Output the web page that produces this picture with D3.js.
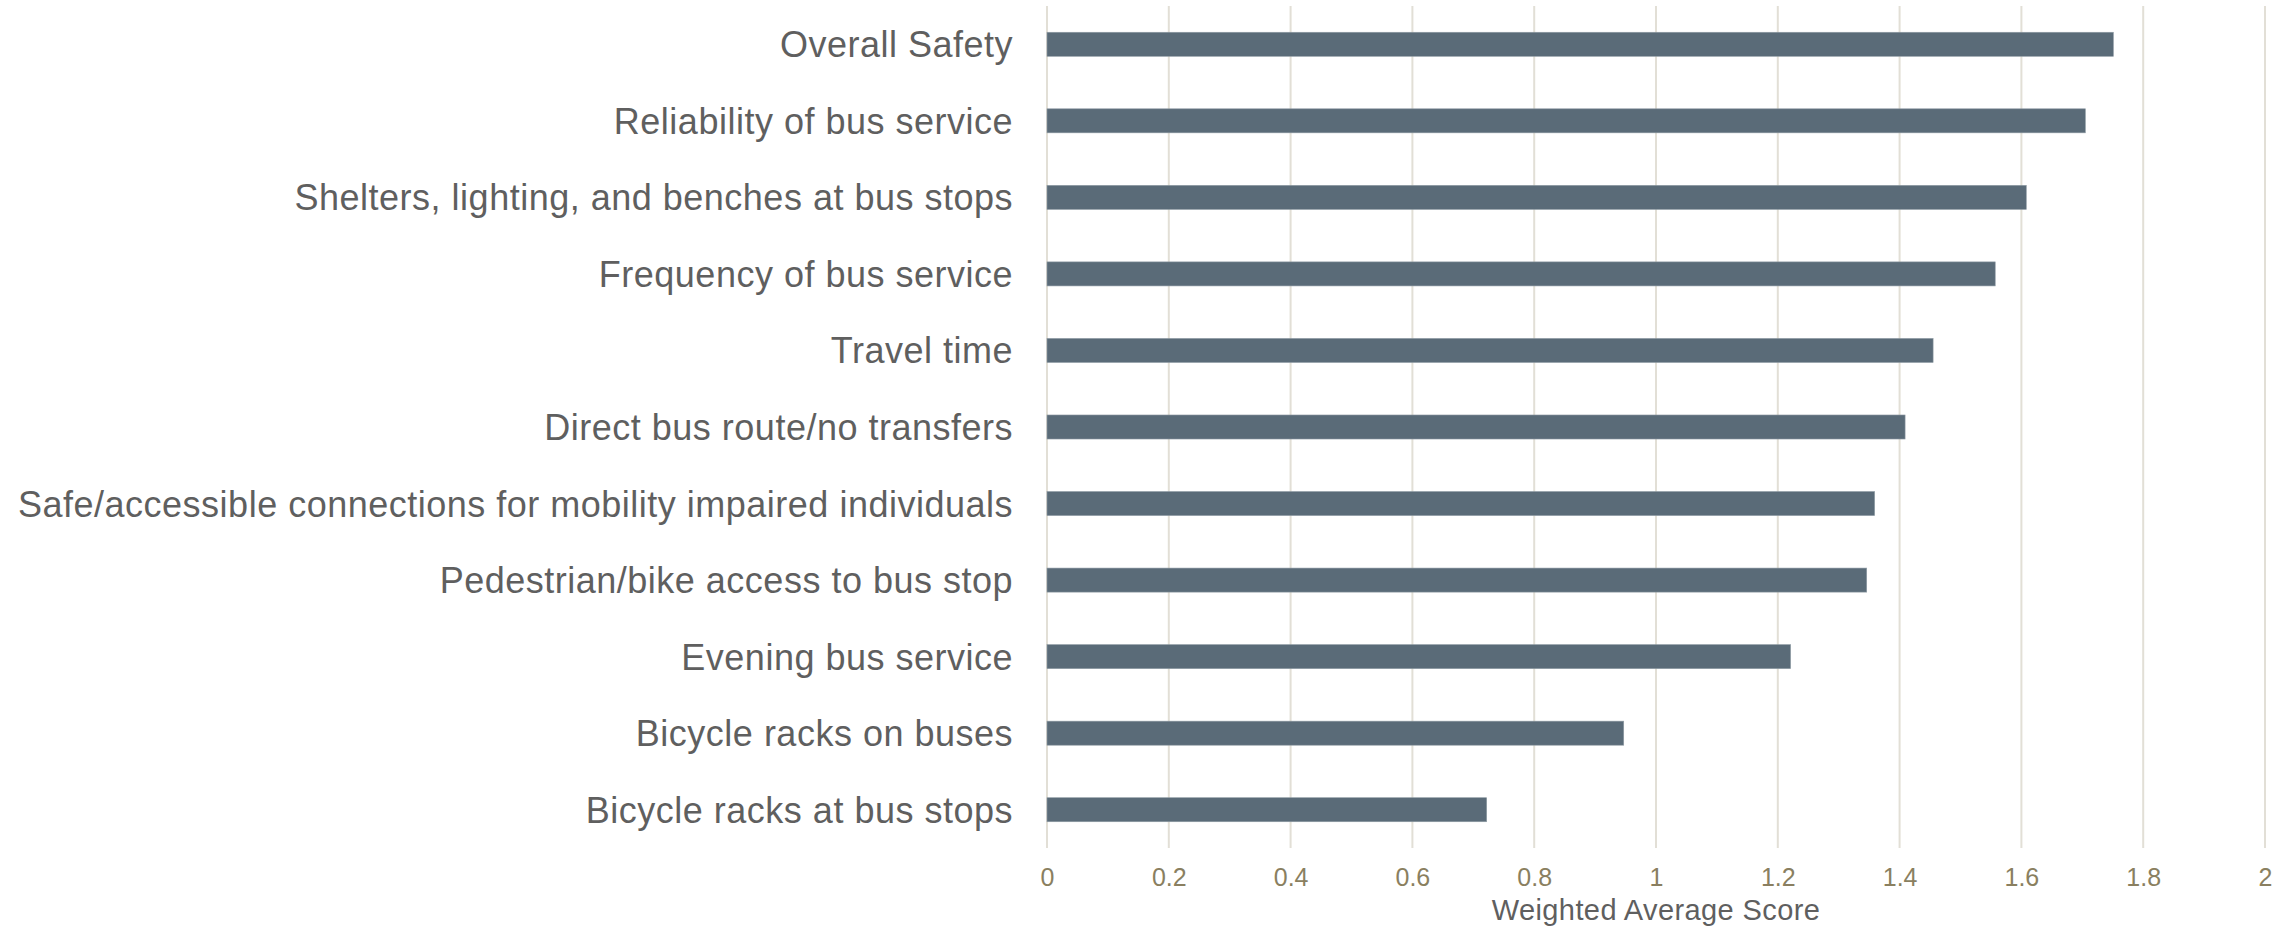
<!DOCTYPE html>
<html>
<head>
<meta charset="utf-8">
<script src="https://cdn.jsdelivr.net/npm/d3@7"></script>
<style>
  html, body { margin: 0; padding: 0; background: #fff; }
  svg { display: block; font-family: "Liberation Sans", Arial, sans-serif; }
</style>
</head>
<body>
<svg id="chart" width="2293" height="928"></svg>
<script>
const categories = [
  "Overall Safety",
  "Reliability of bus service",
  "Shelters, lighting, and benches at bus stops",
  "Frequency of bus service",
  "Travel time",
  "Direct bus route/no transfers",
  "Safe/accessible connections for mobility impaired individuals",
  "Pedestrian/bike access to bus stop",
  "Evening bus service",
  "Bicycle racks on buses",
  "Bicycle racks at bus stops"
];
const scores = [1.751, 1.705, 1.608, 1.557, 1.455, 1.409, 1.359, 1.346, 1.221, 0.947, 0.722];
const tickValues = [0, 0.2, 0.4, 0.6, 0.8, 1, 1.2, 1.4, 1.6, 1.8, 2];
const axisTitle = "Weighted Average Score";

const svg = d3.select("#chart");
const plot = { left: 1047, right: 2265, top: 6, bottom: 848 };

const x = d3.scaleLinear().domain([0, 2]).range([plot.left, plot.right]);
const y = d3.scaleBand().domain(categories).range([plot.top, plot.bottom])
  .paddingInner(0.686).paddingOuter(0.343);

// gridlines
svg.append("g").selectAll("line").data(tickValues).join("line")
  .attr("x1", d => x(d)).attr("x2", d => x(d))
  .attr("y1", plot.top).attr("y2", plot.bottom)
  .attr("stroke", "#e2dfd6").attr("stroke-width", 2);

// bars
svg.append("g").selectAll("rect").data(categories).join("rect")
  .attr("x", x(0))
  .attr("y", d => y(d))
  .attr("width", (d, i) => x(scores[i]) - x(0))
  .attr("height", y.bandwidth())
  .attr("fill", "#5a6b78")
  .attr("stroke", "#8e9aa3").attr("stroke-width", 0.6);

// category labels
svg.append("g").selectAll("text").data(categories).join("text")
  .attr("x", plot.left - 34)
  .attr("y", d => y(d) + y.bandwidth() / 2)
  .attr("dy", "0.36em")
  .attr("text-anchor", "end")
  .attr("font-size", 36)
  .attr("letter-spacing", 0.5)
  .attr("fill", "#5f5f5f")
  .text(d => d);

// x axis tick labels
const xAxis = d3.axisBottom(x).tickValues(tickValues).tickSize(0).tickPadding(0)
  .tickFormat(d3.format("~g"));
const gx = svg.append("g").attr("transform", `translate(0, 868)`).call(xAxis);
gx.select(".domain").remove();
gx.selectAll("text").attr("font-size", 25).attr("fill", "#8a7f60")
  .attr("font-family", "'Liberation Sans', Arial, sans-serif");

// axis title
svg.append("text")
  .attr("x", (plot.left + plot.right) / 2)
  .attr("y", 920)
  .attr("text-anchor", "middle")
  .attr("font-size", 29)
  .attr("letter-spacing", 0.4)
  .attr("fill", "#5f5f5f")
  .text(axisTitle);
</script>
</body>
</html>
